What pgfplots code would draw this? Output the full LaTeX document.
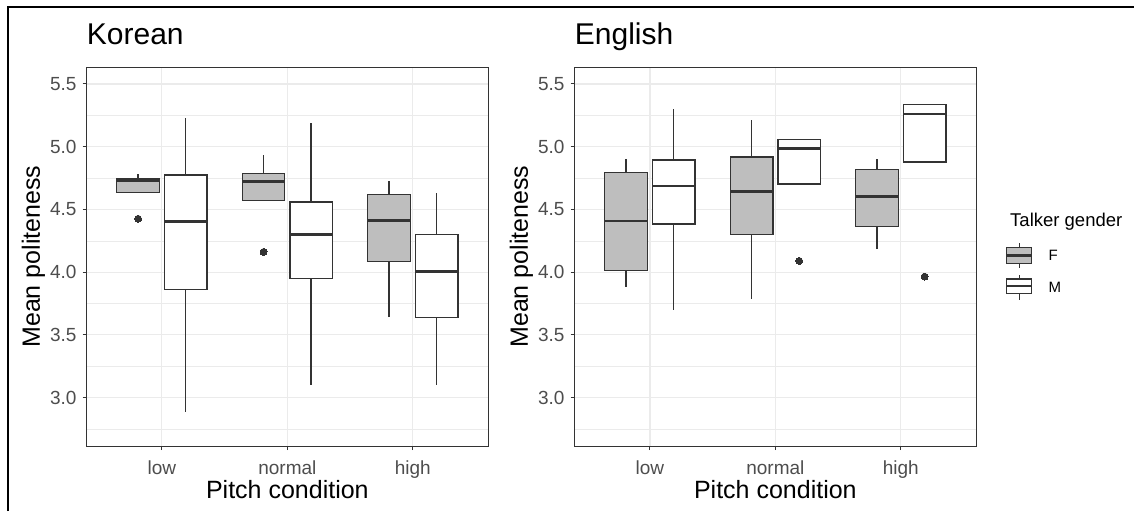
\documentclass[border=0pt]{standalone}
\usepackage{pgfplots}
\pgfplotsset{compat=1.18}
\usepgfplotslibrary{statistics}
\usepackage{fontspec}
\setmainfont{Liberation Sans}
\definecolor{dk}{HTML}{333333}
\definecolor{tk}{HTML}{4D4D4D}
\definecolor{gr}{HTML}{EBEBEB}
\definecolor{ff}{HTML}{BEBEBE}
% pos, lower whisker, lower quartile, median, upper quartile, upper whisker, fill
\newcommand{\bx}[7]{%
\addplot[boxplot/draw direction=y, boxplot prepared={draw position=#1, lower whisker=#2, lower quartile=#3,
  median=#4, upper quartile=#5, upper whisker=#6, box extend=0.34, whisker extend=0},
  draw=dk, fill=#7, line width=1.3pt, solid, mark=none,
  boxplot/every box/.style={line width=1.3pt},
  boxplot/every whisker/.style={line width=1.4pt},
  boxplot/every median/.style={line width=2.7pt}] coordinates {};
}
\pgfplotsset{panel/.style={
  scale only axis, width=401.3pt, height=378.7pt,
  xmin=0.4, xmax=3.6, ymin=2.615, ymax=5.633,
  xtick={1,2,3}, xticklabels={low,normal,high},
  ytick={3,3.5,4,4.5,5,5.5}, yticklabels={3.0,3.5,4.0,4.5,5.0,5.5},
  minor ytick={2.75,3.25,3.75,4.25,4.75,5.25},
  grid=both, major grid style={gr, line width=1.1pt}, minor grid style={gr, line width=0.55pt},
  axis line style={dk, line width=1pt}, tick style={dk, line width=1pt},
  major tick length=4pt, minor tick length=0pt, tick align=outside, tick pos=left,
  ticklabel style={tk, font=\fontsize{19}{19}\selectfont},
  yticklabel style={anchor=east, inner sep=0pt, xshift=-6pt},
  xticklabel style={anchor=base, inner sep=0pt, yshift=-24pt},
  title style={at={(axis description cs:0,1)}, anchor=base west, inner sep=0pt, yshift=16.3pt, font=\fontsize{30}{30}\selectfont},
  xlabel style={at={(axis description cs:0.5,0)}, anchor=base, inner sep=0pt, yshift=-52.7pt, font=\fontsize{25}{25}\selectfont},
  ylabel style={at={(axis description cs:-0.1165,0.5)}, anchor=base, inner sep=0pt, font=\fontsize{25}{25}\selectfont},
  xlabel={Pitch condition}, ylabel={Mean politeness},
}}
\begin{document}
\begin{tikzpicture}[x=1pt,y=1pt]
\useasboundingbox (0,0) rectangle (1134,511);
\begin{axis}[panel, at={(86.7pt,65pt)}, anchor=south west, title={Korean}]
\bx{0.81}{4.636}{4.636}{4.729}{4.747}{4.782}{ff}
\bx{1.19}{2.886}{3.864}{4.404}{4.774}{5.231}{white}
\bx{1.81}{4.569}{4.569}{4.721}{4.785}{4.931}{ff}
\bx{2.19}{3.098}{3.949}{4.298}{4.559}{5.191}{white}
\bx{2.81}{3.641}{4.088}{4.412}{4.622}{4.726}{ff}
\bx{3.19}{3.098}{3.638}{4.005}{4.303}{4.628}{white}
\addplot[only marks, mark=*, mark size=3.5pt, mark options={fill=dk, draw=dk, line width=0pt}] coordinates {(0.81,4.426) (1.81,4.162)};
\end{axis}
\begin{axis}[panel, at={(574.7pt,65pt)}, anchor=south west, title={English}]
\bx{0.81}{3.883}{4.016}{4.407}{4.793}{4.904}{ff}
\bx{1.19}{3.697}{4.383}{4.686}{4.894}{5.298}{white}
\bx{1.81}{3.787}{4.301}{4.644}{4.918}{5.210}{ff}
\bx{2.19}{4.702}{4.702}{4.987}{5.059}{5.059}{white}
\bx{2.81}{4.181}{4.362}{4.604}{4.819}{4.904}{ff}
\bx{3.19}{4.878}{4.878}{5.261}{5.335}{5.335}{white}
\addplot[only marks, mark=*, mark size=3.5pt, mark options={fill=dk, draw=dk, line width=0pt}] coordinates {(2.19,4.090) (3.19,3.965)};
\end{axis}
% legend
\node[anchor=base west, inner sep=0pt, font=\fontsize{18.5}{18.5}\selectfont] at (1010,284.3) {Talker gender};
\draw[dk, line width=1.1pt] (1019.2,243) -- (1019.2,268);
\draw[dk, line width=1.1pt, fill=ff] (1006.7,247.7) rectangle (1031.7,263.3);
\draw[dk, line width=2.2pt] (1006.7,255.5) -- (1031.7,255.5);
\draw[dk, line width=1.1pt] (1019.2,211) -- (1019.2,236);
\draw[dk, line width=1.1pt, fill=white] (1006.7,217.7) rectangle (1031.7,232);
\draw[dk, line width=2.2pt] (1006.7,225) -- (1031.7,225);
\node[anchor=west, inner sep=0pt, font=\fontsize{15}{15}\selectfont] at (1048.3,256) {F};
\node[anchor=west, inner sep=0pt, font=\fontsize{15}{15}\selectfont] at (1048.3,224) {M};
% outer frame
\draw[black, line width=1.2pt] (8,0) -- (8,504) -- (1134,504);
\end{tikzpicture}
\end{document}
